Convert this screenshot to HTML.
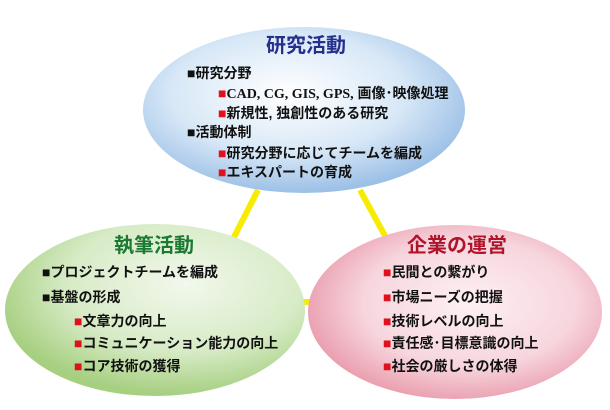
<!DOCTYPE html>
<html><head><meta charset="utf-8"><style>
html,body{margin:0;padding:0;background:#fff;}
svg{display:block;}
text{font-family:"Liberation Sans","Noto Sans CJK JP",sans-serif;font-size:14px;font-weight:bold;fill:#111;}
.t{font-size:20px;font-weight:bold;}
.r{fill:#e0101c;}
</style></head><body>
<svg width="610" height="410" viewBox="0 0 610 410" xmlns="http://www.w3.org/2000/svg">
<defs>
<radialGradient id="gb" cx="0.45" cy="0.4" r="0.6">
<stop offset="0" stop-color="#ffffff"/><stop offset="0.6" stop-color="#d8e8f7"/><stop offset="1" stop-color="#9cc0e6"/></radialGradient>
<radialGradient id="gg" cx="0.6" cy="0.35" r="0.65">
<stop offset="0" stop-color="#f2f8ec"/><stop offset="0.6" stop-color="#d7ebc6"/><stop offset="1" stop-color="#a6cf80"/></radialGradient>
<radialGradient id="gp" cx="0.55" cy="0.45" r="0.6">
<stop offset="0" stop-color="#fdf0f3"/><stop offset="0.6" stop-color="#f7d6de"/><stop offset="1" stop-color="#e897a8"/></radialGradient>
</defs>
<g stroke="#f7ec00" stroke-width="6">
<line x1="258" y1="190" x2="230" y2="245"/>
<line x1="360" y1="190" x2="390" y2="245"/>
<line x1="285" y1="302" x2="320" y2="302"/>
</g>
<ellipse cx="304" cy="110" rx="161" ry="83" fill="url(#gb)"/>
<ellipse cx="155" cy="310" rx="150" ry="86" fill="url(#gg)"/>
<ellipse cx="455" cy="312" rx="147" ry="87" fill="url(#gp)"/>

<text class="t" x="306" y="52" text-anchor="middle" style="fill:#24308c">研究活動</text>
<text x="187" y="78">■研究分野</text>
<text x="218" y="98"><tspan class="r">■</tspan><tspan font-family="Liberation Serif">CAD, CG, GIS, GPS,</tspan> 画像･映像処理</text>
<text x="218" y="118"><tspan class="r">■</tspan>新規性, 独創性のある研究</text>
<text x="187" y="137">■活動体制</text>
<text x="218" y="158"><tspan class="r">■</tspan>研究分野に応じてチームを編成</text>
<text x="218" y="177"><tspan class="r">■</tspan>エキスパートの育成</text>

<text class="t" x="154" y="252" text-anchor="middle" style="fill:#1a7a32">執筆活動</text>
<text x="42" y="277">■プロジェクトチームを編成</text>
<text x="42" y="302">■基盤の形成</text>
<text x="74" y="326"><tspan class="r">■</tspan>文章力の向上</text>
<text x="74" y="348"><tspan class="r">■</tspan>コミュニケーション能力の向上</text>
<text x="74" y="371"><tspan class="r">■</tspan>コア技術の獲得</text>

<text class="t" x="457" y="252" text-anchor="middle" style="fill:#b0142a">企業の運営</text>
<text x="383" y="277"><tspan class="r">■</tspan>民間との繋がり</text>
<text x="383" y="302"><tspan class="r">■</tspan>市場ニーズの把握</text>
<text x="383" y="326"><tspan class="r">■</tspan>技術レベルの向上</text>
<text x="383" y="348"><tspan class="r">■</tspan>責任感･目標意識の向上</text>
<text x="383" y="371"><tspan class="r">■</tspan>社会の厳しさの体得</text>
</svg>
</body></html>
